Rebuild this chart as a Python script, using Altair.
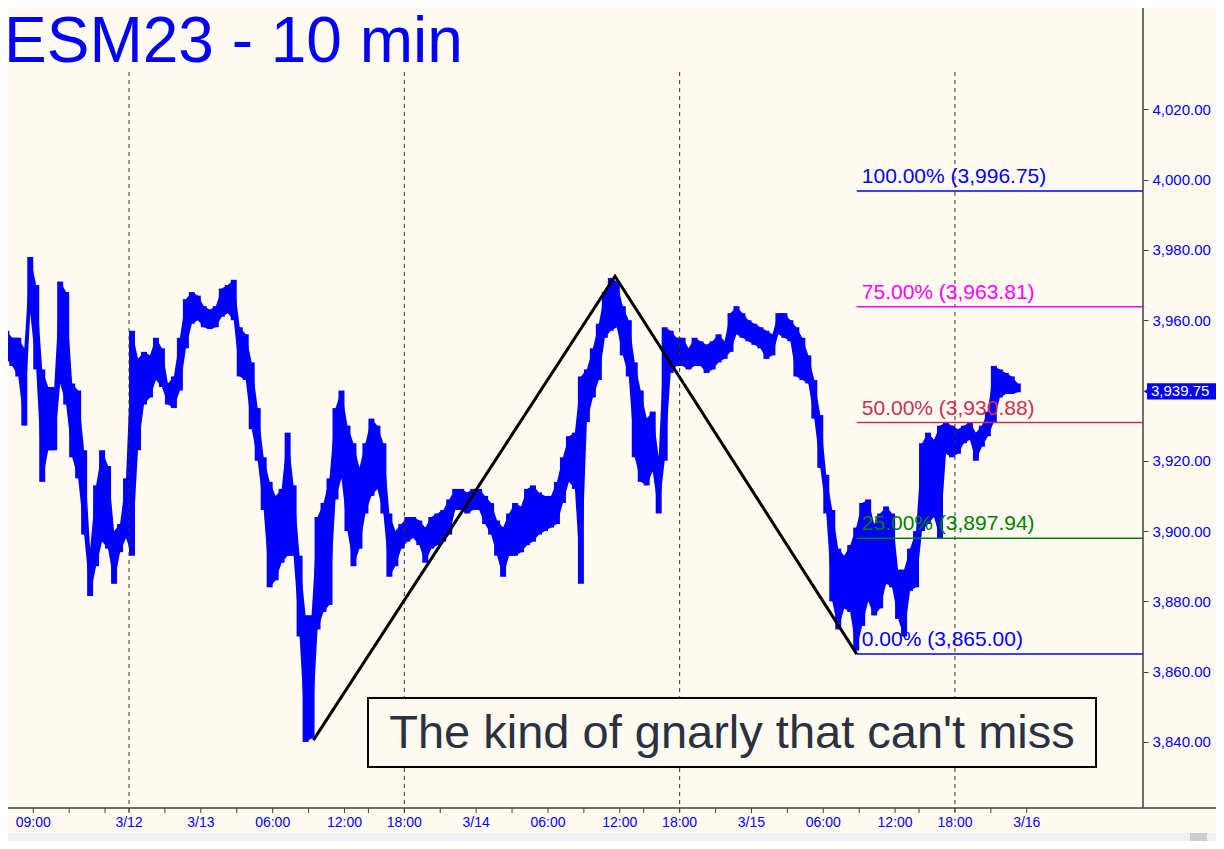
import altair as alt
import pandas as pd

# ---------------- data ----------------
# 30-minute high / low of the 10-min bars; time axis = trading hours since the 3/12 18:00 open
bar_high = [3949, 3957, 3955, 3955, 3952, 3978, 3970, 3946, 3941, 3941,
            3971, 3968, 3942, 3940, 3923, 3895, 3913, 3923, 3918.5, 3900,
            3902, 3915, 3957, 3949, 3951, 3950, 3955, 3952, 3942, 3944,
            3955, 3966, 3968, 3967, 3964, 3963, 3964, 3969, 3970, 3971.5,
            3958, 3956, 3948, 3935, 3921, 3914, 3910, 3912, 3928, 3913,
            3893, 3876, 3876, 3904, 3908, 3915, 3935, 3940, 3930, 3925,
            3918, 3925, 3932, 3930, 3925, 3905, 3900, 3902, 3904, 3904,
            3903, 3901, 3904, 3905, 3906, 3909, 3912, 3912, 3911, 3912,
            3912, 3910, 3908, 3903, 3901, 3905, 3908, 3907, 3912, 3913,
            3911, 3910, 3910, 3914, 3921, 3927, 3928, 3944, 3946, 3952,
            3959, 3968, 3972, 3971, 3964, 3960, 3948, 3940, 3932, 3934,
            3921, 3958, 3957, 3955, 3955, 3952, 3955, 3954, 3953, 3954,
            3956, 3954, 3962, 3964, 3962, 3960, 3959, 3958, 3957, 3956,
            3962, 3962, 3960, 3958, 3955, 3950, 3943, 3933, 3916, 3906,
            3895, 3893, 3896, 3901, 3908, 3909, 3902, 3905, 3907, 3905,
            3889, 3889, 3895, 3900, 3925, 3928, 3926, 3930, 3931, 3930,
            3929, 3930, 3931, 3928, 3930, 3934, 3947, 3946, 3945, 3944,
            3942]
bar_low = [3937, 3949, 3947, 3944, 3930, 3962, 3946, 3914, 3923, 3923,
           3942, 3936, 3921, 3915, 3899, 3881.5, 3890, 3897, 3895, 3885,
           3894, 3898, 3893, 3923, 3936, 3938, 3943, 3941, 3936, 3935,
           3940, 3952, 3959, 3960, 3958, 3957.5, 3958, 3961, 3962, 3960,
           3944, 3943, 3929, 3920, 3906, 3884, 3886, 3891, 3893, 3893,
           3870, 3840, 3841, 3872, 3877, 3879, 3909, 3915, 3900, 3890,
           3895, 3905, 3910, 3912, 3905, 3887, 3890, 3895, 3897, 3898,
           3896, 3891, 3895, 3896, 3897, 3899, 3906, 3906, 3905, 3906,
           3906, 3902, 3899, 3893, 3887, 3893, 3893, 3894, 3896, 3897,
           3899, 3900, 3901, 3902, 3908, 3914, 3912, 3885, 3931, 3938,
           3943, 3955, 3957, 3958, 3950, 3944, 3921, 3914, 3913, 3917,
           3905, 3920, 3945, 3947, 3947, 3946, 3947, 3947, 3945, 3946,
           3948, 3949, 3951, 3956, 3955, 3954, 3953, 3952, 3949, 3950,
           3956, 3955, 3954, 3944, 3943, 3942, 3932, 3918, 3905, 3880,
           3872, 3878, 3877, 3866, 3873, 3880, 3876, 3878, 3885, 3884,
           3875, 3870, 3883, 3884, 3900, 3902, 3904, 3898, 3922, 3921,
           3922, 3925, 3926, 3920, 3924, 3927, 3931, 3938, 3939, 3939,
           3939.5]
first_bar_hour = -11.0
bar_hours = 0.5

# x-axis ticks (trading hours) and their labels
tick_hours = [-8, 0, 6, 12, 18, 23, 29, 35, 41, 46, 52, 58, 64, 69, 75]
tick_labels = ["09:00", "3/12", "3/13", "06:00", "12:00", "18:00", "3/14", "06:00",
               "12:00", "18:00", "3/15", "06:00", "12:00", "18:00", "3/16"]
minor_hours = [-5, -2, 3, 9, 15, 20, 26, 32, 38, 43, 49, 55, 61, 66, 72]
session_open_hours = [0, 23, 46, 69]

price_ticks = [3840, 3860, 3880, 3900, 3920, 3960, 3980, 4000, 4020]
last_price = [3939.75]

# Fibonacci levels
fib_pct = [100.0, 75.0, 50.0, 25.0, 0.0]
fib_val = [3996.75, 3963.81, 3930.88, 3897.94, 3865.00]
fib_col = ["#0000ff", "#ff00ff", "#cc3050", "#008000", "#0000ff"]
fib_start_hour = 60.8

# zig-zag swing line
zz_hour = [15.4, 40.6, 60.8]
zz_price = [3840.5, 3972.5, 3865.0]

title_text = "ESM23 - 10 min"
note_text = "The kind of gnarly that can't miss"

# ---------------- chart ----------------
X_MIN, X_MAX = -10.11, 84.71
Y_MIN, Y_MAX = 3821.2, 4031.2
W, H = 1135, 738
PAD_R, PAD_B, PAD_T = 73, 33, 62
BG = "#fffbf0"
BLUE = "#0000ff"
AX = "#404040"
FONT = "Liberation Sans"

xs = alt.Scale(domain=[X_MIN, X_MAX], nice=False, zero=False)
ys = alt.Scale(domain=[Y_MIN, Y_MAX], nice=False, zero=False)

bars = pd.DataFrame({
    "t0": [first_bar_hour + bar_hours * i for i in range(len(bar_high))],
    "hi": bar_high,
    "lo": bar_low,
})
bars["t1"] = bars["t0"] + bar_hours
bars["tc"] = bars["t0"] + bar_hours / 2

y_axis = alt.Axis(orient="right", values=price_ticks, format=",.2f", title=None, grid=False,
                  domain=False, tickColor=AX, tickSize=5, labelColor=BLUE,
                  labelFont=FONT, labelFontSize=15, labelPadding=4)

price = alt.Chart(bars).mark_rect(color=BLUE, clip=True).encode(
    x=alt.X("t0:Q", scale=xs, axis=None),
    x2="t1:Q",
    y=alt.Y("lo:Q", scale=ys, axis=y_axis),
    y2="hi:Q",
)
ribbon = alt.Chart(bars).mark_area(color=BLUE, clip=True, opacity=1).encode(
    x=alt.X("tc:Q", scale=xs, axis=None),
    y=alt.Y("lo:Q", scale=ys),
    y2="hi:Q",
)

sessions = alt.Chart(pd.DataFrame({"t": session_open_hours})).mark_rule(
    color="#333333", strokeDash=[4, 4], strokeWidth=1
).encode(x=alt.X("t:Q", scale=xs), y=alt.value(2), y2=alt.value(H + 4))

# x axis drawn from the tick lists
xticks = pd.DataFrame({"t": tick_hours + minor_hours})
xtick_marks = alt.Chart(xticks).mark_rule(color=AX, strokeWidth=1).encode(
    x=alt.X("t:Q", scale=xs), y=alt.value(H), y2=alt.value(H + 5))
xlabels = alt.Chart(pd.DataFrame({"t": tick_hours, "s": tick_labels})).mark_text(
    color=BLUE, font=FONT, fontSize=14, baseline="middle", align="center"
).encode(x=alt.X("t:Q", scale=xs), y=alt.value(H + 15), text="s:N")
x_domain = alt.Chart(pd.DataFrame({"s": ["x"]})).mark_rule(color=AX, strokeWidth=1.5).encode(
    x=alt.value(-8), x2=alt.value(W + PAD_R), y=alt.value(H))
y_domain = alt.Chart(pd.DataFrame({"s": ["y"]})).mark_rule(color=AX, strokeWidth=1.5).encode(
    x=alt.value(W), y=alt.value(-PAD_T), y2=alt.value(H))

zz = alt.Chart(pd.DataFrame({"t": zz_hour, "p": zz_price, "o": [0, 1, 2]})).mark_line(
    color="black", strokeWidth=3
).encode(x=alt.X("t:Q", scale=xs), y=alt.Y("p:Q", scale=ys), order="o:Q")

fib_df = pd.DataFrame({
    "pct": fib_pct, "val": fib_val, "col": fib_col,
    "t0": [fib_start_hour] * len(fib_val), "t1": [X_MAX] * len(fib_val),
})
fib_df["label"] = [f"{p:.2f}% ({v:,.2f})" for p, v in zip(fib_pct, fib_val)]

fib_lines = alt.Chart(fib_df).mark_rule(strokeWidth=1.5).encode(
    x=alt.X("t0:Q", scale=xs), x2="t1:Q", y=alt.Y("val:Q", scale=ys),
    color=alt.Color("col:N", scale=None),
)
fib_text = alt.Chart(fib_df).mark_text(
    align="left", baseline="bottom", dx=5, dy=-4, fontSize=21, font=FONT
).encode(
    x=alt.X("t0:Q", scale=xs), y=alt.Y("val:Q", scale=ys), text="label:N",
    color=alt.Color("col:N", scale=None),
)

lp = pd.DataFrame({"p": last_price})
lp["lo"] = lp["p"] - 2.3
lp["hi"] = lp["p"] + 2.3
lp["label"] = [f"{v:,.2f}" for v in last_price]
lp_box = alt.Chart(lp).mark_rect(color=BLUE).encode(
    x=alt.value(W + 4), x2=alt.value(W + PAD_R), y=alt.Y("lo:Q", scale=ys), y2="hi:Q")
lp_arrow = alt.Chart(lp).mark_point(shape="triangle-left", filled=True, color=BLUE,
                                    size=60, opacity=1).encode(
    x=alt.value(W + 4), y=alt.Y("p:Q", scale=ys))
lp_text = alt.Chart(lp).mark_text(align="left", baseline="middle", color="white",
                                  fontSize=15, font=FONT).encode(
    x=alt.value(W + 8), y=alt.Y("p:Q", scale=ys), text="label:N")

title = alt.Chart(pd.DataFrame({"s": [title_text]})).mark_text(
    align="left", baseline="alphabetic", fontSize=64, font=FONT, color=BLUE
).encode(x=alt.value(-4), y=alt.value(-8), text="s:N")

note_box = alt.Chart(pd.DataFrame({"s": [note_text]})).mark_rect(
    fill=BG, stroke="black", strokeWidth=2
).encode(x=alt.value(360), x2=alt.value(1088), y=alt.value(628), y2=alt.value(697))
note = alt.Chart(pd.DataFrame({"s": [note_text]})).mark_text(
    align="center", baseline="middle", fontSize=47, font=FONT, color="#2b3140"
).encode(x=alt.value(724), y=alt.value(664), text="s:N")

scroll = alt.Chart(pd.DataFrame({"s": ["bar"]})).mark_rect(color="#f0f0f0").encode(
    x=alt.value(-8), x2=alt.value(W + PAD_R), y=alt.value(H + 25), y2=alt.value(H + PAD_B))
thumb = alt.Chart(pd.DataFrame({"s": ["thumb"]})).mark_rect(color="#cdcdcd").encode(
    x=alt.value(W + 47), x2=alt.value(W + 64), y=alt.value(H + 25), y2=alt.value(H + PAD_B))

chart = alt.layer(
    ribbon, price, sessions, zz, fib_lines, fib_text, note_box, note,
    scroll, thumb, xtick_marks, xlabels, x_domain, y_domain,
    lp_box, lp_arrow, lp_text, title
).properties(
    width=W, height=H,
    autosize=alt.AutoSizeParams(type="none"),
    padding={"left": 0, "top": PAD_T, "right": PAD_R, "bottom": PAD_B},
    background=BG,
).configure_view(stroke=None, fill=BG)

chart.save("out.html", embed_options={"renderer": "svg", "actions": False})
